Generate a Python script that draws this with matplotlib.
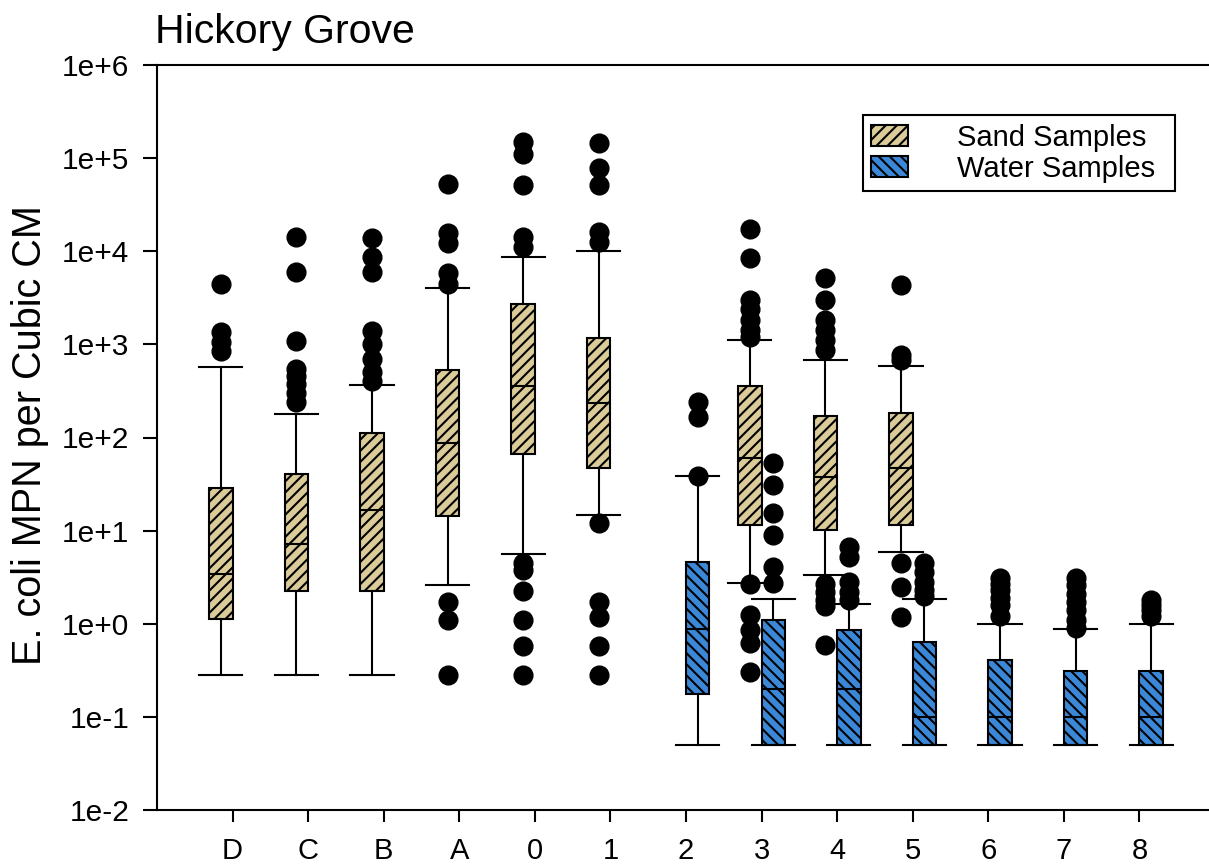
import math
import matplotlib
matplotlib.use("Agg")
import matplotlib.pyplot as plt
from matplotlib.patches import Patch
from matplotlib.ticker import FixedLocator, FuncFormatter, NullLocator

plt.rcParams['font.family'] = ['Liberation Sans', 'DejaVu Sans']
plt.rcParams['hatch.linewidth'] = 1.5

# categories along the x axis
categories = ['D', 'C', 'B', 'A', '0', '1', '2', '3', '4', '5', '6', '7', '8']

# sand samples (box statistics)
sand_cats = ['D', 'C', 'B', 'A', '0', '1', '3', '4', '5']
sand_whislo = [0.28, 0.28, 0.28, 2.6, 5.6, 14.7, 2.76, 3.34, 5.85]
sand_q1 = [1.12, 2.25, 2.25, 14.5, 66.5, 47.4, 11.5, 10.2, 11.5]
sand_med = [3.4, 7.2, 16.6, 88, 357, 233, 60, 37.9, 46.7]
sand_q3 = [29, 40.6, 113, 530, 2690, 1160, 357, 170, 182]
sand_whishi = [575, 179, 366, 4000, 8670, 10100, 1115, 680, 586]
sand_fliers = [
    [4450, 1370, 1070, 840],
    [14300, 6000, 1100, 550, 460, 380, 300, 240],
    [13800, 8700, 6000, 1400, 1000, 700, 510, 400],
    [52700, 15600, 12200, 5800, 4500, 1.73, 1.1, 0.28],
    [150000, 112000, 51400, 14300, 11200, 4.46, 3.78, 2.26, 1.1, 0.57, 0.28],
    [144000, 77700, 51400, 16200, 12700, 12, 1.73, 1.19, 0.57, 0.28],
    [17200, 8400, 3000, 2400, 1830, 1430, 1200, 2.7, 1.24, 0.86, 0.62, 0.3],
    [5120, 3000, 1830, 1430, 1115, 870, 2.7, 2.2, 1.8, 1.55, 0.59],
    [4340, 770, 680, 4.46, 2.5, 1.19],
]

# water samples
water_cats = ['2', '3', '4', '5', '6', '7', '8']
water_whislo = [0.05, 0.05, 0.05, 0.05, 0.05, 0.05, 0.05]
water_q1 = [0.176, 0.05, 0.05, 0.05, 0.05, 0.05, 0.05]
water_med = [0.87, 0.2, 0.2, 0.1, 0.1, 0.1, 0.1]
water_q3 = [4.6, 1.1, 0.86, 0.64, 0.41, 0.31, 0.31]
water_whishi = [38.6, 1.83, 1.63, 1.83, 1.0, 0.88, 1.0]
water_fliers = [
    [243, 167, 39],
    [52.8, 30.8, 15.3, 9.0, 4.1, 2.72],
    [6.6, 5.2, 2.8, 2.2, 1.8],
    [4.5, 3.6, 2.8, 2.3, 2.0],
    [3.1, 2.7, 2.3, 1.9, 1.6, 1.2],
    [3.1, 2.6, 2.1, 1.7, 1.4, 1.1, 0.9],
    [1.8, 1.6, 1.4, 1.2],
]

sand_color = '#dacb98'
water_color = '#3b88d8'
LW = 1.5


def make_stats(whislo, q1, med, q3, whishi, fliers):
    stats = []
    for lo, a, m, b, hi, fl in zip(whislo, q1, med, q3, whishi, fliers):
        stats.append(dict(whislo=lo, q1=a, med=m, q3=b, whishi=hi, fliers=fl))
    return stats


def draw_boxes(ax, stats, cats, offset, color, hatch):
    pos = [categories.index(c) + offset for c in cats]
    ax.bxp(stats, positions=pos, widths=0.31, capwidths=0.57,
           patch_artist=True, manage_ticks=False,
           boxprops=dict(facecolor=color, edgecolor='black', hatch=hatch, linewidth=LW),
           medianprops=dict(color='black', linewidth=LW),
           whiskerprops=dict(color='black', linewidth=LW),
           capprops=dict(color='black', linewidth=LW),
           flierprops=dict(marker='o', markerfacecolor='black',
                           markeredgecolor='black', markersize=13.5))


fig = plt.figure(figsize=(12.09, 8.64), dpi=100)
ax = fig.add_axes([157 / 1209, 54 / 864, 1058 / 1209, 745 / 864])

draw_boxes(ax, make_stats(sand_whislo, sand_q1, sand_med, sand_q3, sand_whishi, sand_fliers),
           sand_cats, -0.155, sand_color, '///')
draw_boxes(ax, make_stats(water_whislo, water_q1, water_med, water_q3, water_whishi, water_fliers),
           water_cats, 0.155, water_color, '\\\\\\')

ax.set_yscale('log')
ax.set_ylim(1e-2, 1e6)
ax.set_xlim(-1, 13)
ax.yaxis.set_major_locator(FixedLocator([10.0 ** e for e in range(-2, 7)]))
ax.yaxis.set_minor_locator(NullLocator())
ax.yaxis.set_major_formatter(FuncFormatter(lambda v, p: "1e%+d" % round(math.log10(v))))
ax.set_xticks(range(len(categories)))
ax.set_xticklabels(categories)

for side in ['left', 'bottom', 'top']:
    ax.spines[side].set_linewidth(1.5)
ax.spines['right'].set_visible(False)
ax.tick_params(axis='y', direction='out', length=10, width=1.5, pad=10, labelsize=21.5)
ax.tick_params(axis='x', direction='out', length=8.5, width=1.5, pad=11, labelsize=21)

fig.text(30 / 1209, 1 - 435 / 864, 'E. coli MPN per Cubic CM', rotation=90,
         ha='center', va='center', fontsize=28.5)
fig.text(155 / 1209, 1 - 43 / 864, 'Hickory Grove', ha='left', va='baseline', fontsize=29.5)

handles = [Patch(facecolor=sand_color, edgecolor='black', hatch='///', linewidth=LW),
           Patch(facecolor=water_color, edgecolor='black', hatch='\\\\\\', linewidth=LW)]
leg = ax.legend(handles, ['Sand Samples', 'Water Samples'], loc='upper left',
                bbox_to_anchor=(0.667, 0.833, 0.295, 0.1), mode='expand',
                borderaxespad=0, fontsize=21,
                handlelength=1.25, handleheight=0.75, handletextpad=1.7,
                borderpad=0.3, labelspacing=0.1, fancybox=False, framealpha=1,
                edgecolor='black')
leg.get_frame().set_linewidth(1.5)

fig.savefig('out.png', dpi=100)
